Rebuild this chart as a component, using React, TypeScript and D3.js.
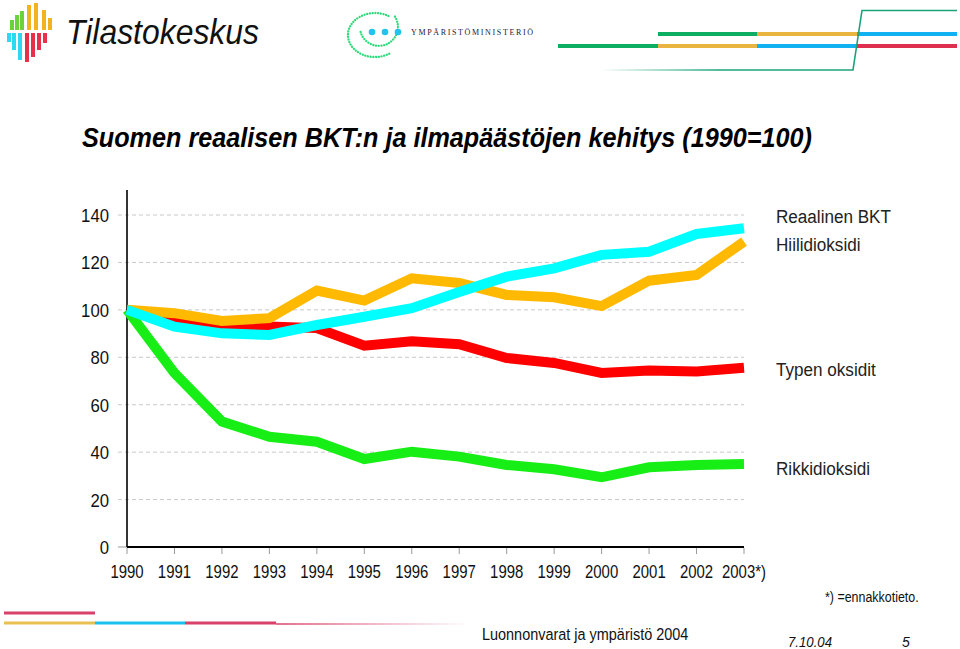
import React from "react";
import * as d3 from "d3";

const yearLabels = ["1990","1991","1992","1993","1994","1995","1996","1997","1998","1999","2000","2001","2002","2003*)"];
// Reaalinen BKT (cyan)
const gdp = [100, 92.9, 90.1, 89.4, 93.6, 97.1, 100.7, 107.5, 114.0, 117.5, 123.2, 124.5, 132.0, 134.4];
// Hiilidioksidi (orange)
const co2 = [100, 98.6, 95.3, 96.5, 108.1, 103.9, 113.3, 111.3, 106.3, 105.3, 101.6, 112.3, 114.7, 128.8];
// Typen oksidit (red)
const nox = [100, 95.8, 93.2, 93.0, 92.3, 84.9, 86.8, 85.5, 79.7, 77.6, 73.4, 74.4, 74.0, 75.6];
// Rikkidioksidi (green)
const so2 = [100, 73.4, 52.9, 46.5, 44.4, 37.1, 40.2, 38.1, 34.6, 32.8, 29.4, 33.6, 34.6, 35.0];
const yTicks = [0, 20, 40, 60, 80, 100, 120, 140];
const seriesNames = ["Reaalinen BKT", "Hiilidioksidi", "Typen oksidit", "Rikkidioksidi"];

const SANS = "'Liberation Sans', Arial, sans-serif";

type NTProps = { x: number; y: number; sx: number; size: number; anchor?: string; fill?: string; style?: string; children: React.ReactNode };
function NText({ x, y, sx, size, anchor = "start", fill = "#111", style = "normal", children }: NTProps) {
  return (
    <text transform={`translate(${x},${y}) scale(${sx},1)`} textAnchor={anchor} fontFamily={SANS}
      fontSize={size} fontStyle={style} fill={fill}>{children}</text>
  );
}

export default function App() {
  const W = 960, H = 649;
  const x = d3.scaleLinear().domain([0, yearLabels.length - 1]).range([127, 744]);
  const y = d3.scaleLinear().domain([0, 140]).range([547, 215]);
  const line = d3.line<number>().x((_, i) => x(i)).y(d => y(d));

  const series = [
    { name: seriesNames[3], values: so2, color: "#16EE16" },
    { name: seriesNames[2], values: nox, color: "#FF0000" },
    { name: seriesNames[1], values: co2, color: "#FFB900" },
    { name: seriesNames[0], values: gdp, color: "#00FFFF" },
  ];
  const labelY: Record<string, number> = {
    "Reaalinen BKT": 223, "Hiilidioksidi": 251, "Typen oksidit": 376, "Rikkidioksidi": 475,
  };

  // Tilastokeskus logo bars
  const upperBars = [
    { x: 10, top: 20, c: "#6CD13A" }, { x: 15, top: 15, c: "#6CD13A" }, { x: 20, top: 11, c: "#6CD13A" },
    { x: 27, top: 5, c: "#F2B31E" }, { x: 34, top: 3, c: "#F2B31E" }, { x: 42, top: 10, c: "#F2B31E" }, { x: 48, top: 18, c: "#F2B31E" },
  ];
  const lowerBars = [
    { x: 7, bot: 42, c: "#2DD8F0" }, { x: 12, bot: 50, c: "#2DD8F0" }, { x: 18, bot: 60, c: "#2DD8F0" },
    { x: 25, bot: 62, c: "#E8304A" }, { x: 31, bot: 57, c: "#E8304A" }, { x: 37, bot: 50, c: "#E8304A" }, { x: 43, bot: 43, c: "#E8304A" },
  ];

  return (
    <>
      <style>{`html,body{margin:0;padding:0;overflow:hidden;background:#fff}`}</style>
      <svg width={W} height={H} style={{ display: "block" }} xmlns="http://www.w3.org/2000/svg">
        <defs>
          <linearGradient id="tealFade" gradientUnits="userSpaceOnUse" x1={600} y1={0} x2={720} y2={0}>
            <stop offset="0" stopColor="#1AA37A" stopOpacity={0} />
            <stop offset="1" stopColor="#1AA37A" stopOpacity={1} />
          </linearGradient>
          <linearGradient id="redFade" gradientUnits="userSpaceOnUse" x1={276} y1={0} x2={470} y2={0}>
            <stop offset="0" stopColor="#D9406A" stopOpacity={1} />
            <stop offset="1" stopColor="#D9406A" stopOpacity={0} />
          </linearGradient>
        </defs>
        <rect x={0} y={0} width={W} height={H} fill="#fff" />

        {/* Tilastokeskus logo */}
        {upperBars.map((b, i) => (
          <rect key={"u" + i} x={b.x} y={b.top} width={4} height={30 - b.top} fill={b.c} />
        ))}
        {lowerBars.map((b, i) => (
          <rect key={"l" + i} x={b.x} y={33} width={4} height={b.bot - 33} fill={b.c} />
        ))}
        <text x={66} y={44} fontFamily={SANS} fontStyle="italic" fontSize={35} fill="#111"
          textLength={193} lengthAdjust="spacingAndGlyphs">Tilastokeskus</text>

        {/* Ympäristöministeriö logo */}
        <path d="M388.5,16 A27,22 0 1 0 390.5,53" fill="none" stroke="#2EDB7A" strokeWidth={2.3}
          strokeDasharray="0.1 2.6" strokeLinecap="round" />
        <path d="M360.6,31.9 A19,19 0 1 0 393.6,14.8" fill="none" stroke="#2EDB7A" strokeWidth={2.3}
          strokeDasharray="0.1 2.6" strokeLinecap="round" />
        {[372, 385, 398].map(cx => <circle key={cx} cx={cx} cy={32} r={3.3} fill="#22C3EE" />)}
        <text x={411} y={35} fontFamily="'Liberation Serif', serif" fontSize={8} fill="#1a1a3a"
          textLength={122} lengthAdjust="spacing">YMPÄRISTÖMINISTERIÖ</text>

        {/* Top right decoration */}
        <g strokeWidth={4}>
          <line x1={658} x2={757} y1={34} y2={34} stroke="#0EAE62" />
          <line x1={757} x2={857} y1={34} y2={34} stroke="#E9B440" />
          <line x1={857} x2={957} y1={34} y2={34} stroke="#12B2F2" />
          <line x1={558} x2={658} y1={46} y2={46} stroke="#0EAE62" />
          <line x1={658} x2={757} y1={46} y2={46} stroke="#E9B440" />
          <line x1={757} x2={857} y1={46} y2={46} stroke="#12B2F2" />
          <line x1={857} x2={957} y1={46} y2={46} stroke="#DE3150" />
        </g>
        <polyline points="600,70 853,70 862,10.5 957,10.5" fill="none" stroke="url(#tealFade)" strokeWidth={1.6} />

        {/* Title */}
        <text x={82} y={147} fontFamily={SANS} fontStyle="italic" fontWeight="bold" fontSize={27} fill="#000"
          textLength={730} lengthAdjust="spacingAndGlyphs">Suomen reaalisen BKT:n ja ilmapäästöjen kehitys (1990=100)</text>

        {/* Grid */}
        {yTicks.filter(t => t > 0).map(t => (
          <line key={t} x1={118} x2={744} y1={y(t)} y2={y(t)} stroke="#c9c9c9" strokeWidth={1} strokeDasharray="4 3" />
        ))}
        <line x1={118} x2={127} y1={y(0)} y2={y(0)} stroke="#999" strokeWidth={1} />
        {/* Axes */}
        <line x1={127} x2={127} y1={190} y2={y(0)} stroke="#000" strokeWidth={1.6} />
        <line x1={127} x2={744} y1={y(0)} y2={y(0)} stroke="#000" strokeWidth={1.8} />
        {yearLabels.map((_, i) => (
          <line key={i} x1={x(i)} x2={x(i)} y1={y(0) + 1} y2={y(0) + 7} stroke="#999" strokeWidth={1} />
        ))}
        {yTicks.map(t => (
          <NText key={t} x={109} y={y(t) + 7} sx={0.93} size={18} anchor="end">{t}</NText>
        ))}
        {yearLabels.map((lab, i) => (
          <NText key={lab} x={x(i)} y={578} sx={0.83} size={18} anchor="middle">{lab}</NText>
        ))}

        {/* Series lines */}
        {series.map(s => (
          <path key={s.name} d={line(s.values) || ""} fill="none" stroke={s.color} strokeWidth={10} strokeLinejoin="miter" />
        ))}

        {/* Series labels */}
        {series.map(s => (
          <NText key={"lab" + s.name} x={776} y={labelY[s.name]} sx={0.9} size={19} fill="#222">{s.name}</NText>
        ))}

        {/* Footnotes */}
        <NText x={825} y={602} sx={0.83} size={15}>*) =ennakkotieto.</NText>
        <NText x={482} y={640} sx={0.85} size={17}>Luonnonvarat ja ympäristö 2004</NText>
        <text x={788} y={647} fontFamily={SANS} fontStyle="italic" fontSize={14} fill="#111"
          textLength={44} lengthAdjust="spacingAndGlyphs">7.10.04</text>
        <text x={902} y={647} fontFamily={SANS} fontStyle="italic" fontSize={14} fill="#111">5</text>

        {/* Bottom left decoration */}
        <g strokeWidth={3}>
          <line x1={4} x2={95} y1={613} y2={613} stroke="#D9406A" />
          <line x1={4} x2={95} y1={623} y2={623} stroke="#E8C050" />
          <line x1={95} x2={185} y1={623} y2={623} stroke="#1BC1EE" />
          <line x1={185} x2={276} y1={623} y2={623} stroke="#D9406A" />
        </g>
        <line x1={276} x2={470} y1={624} y2={624} stroke="url(#redFade)" strokeWidth={1.5} />
      </svg>
    </>
  );
}
